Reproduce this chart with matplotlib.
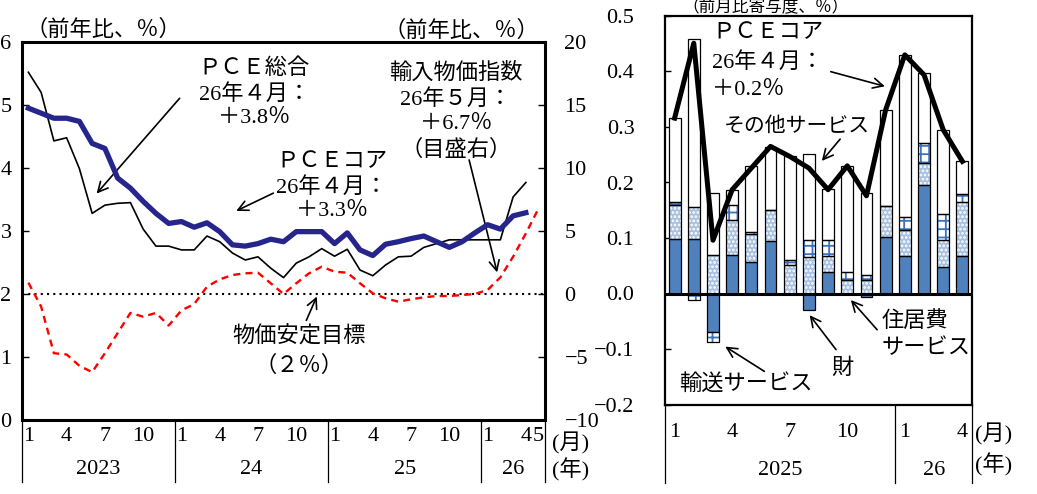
import matplotlib.pyplot as plt

plt.rcParams['font.family'] = ['Liberation Serif', 'Noto Sans CJK JP']
plt.rcParams['hatch.linewidth'] = 1.3

# ---- left panel data (Jan 2023 - May 2026, monthly) ----
pce_total = [5.52, 5.20, 4.43, 4.48, 3.99, 3.28, 3.41, 3.44, 3.45, 3.03,
             2.76, 2.76, 2.70, 2.70, 2.92, 2.83, 2.65, 2.54, 2.59, 2.41,
             2.26, 2.49, 2.59, 2.72, 2.60, 2.71, 2.38, 2.29, 2.46, 2.59,
             2.60, 2.74, 2.80, 2.86, 2.86, 2.86, 2.86, 2.86, 3.54, 3.77]
pce_core = [4.95, 4.87, 4.79, 4.79, 4.74, 4.39, 4.31, 3.84, 3.68, 3.47,
            3.28, 3.12, 3.15, 3.06, 3.13, 2.99, 2.78, 2.76, 2.80, 2.87,
            2.83, 2.99, 2.99, 2.99, 2.80, 2.97, 2.70, 2.61, 2.79, 2.83,
            2.88, 2.92, 2.83, 2.74, 2.83, 2.97, 3.10, 3.03, 3.24, 3.29]
import_px = [0.9, -1.0, -4.7, -4.8, -5.7, -6.2, -4.7, -3.1, -1.5, -1.8,
             -1.5, -2.5, -1.3, -0.8, 0.58, 1.16, 1.51, 1.64, 1.69, 0.85,
             0.0, 0.85, 1.64, 2.17, 1.77, 1.69, 0.85, 0.05, -0.34, -0.61,
             -0.42, -0.26, -0.16, -0.16, -0.08, 0.0, 0.32, 1.32, 2.96, 4.81, 6.8]
months_l = list(range(len(import_px)))
target = 2.0

tick_pos_l = [0, 3, 6, 9, 12, 15, 18, 21, 24, 27, 30, 33, 36, 39, 40]
tick_lab_l = ['1', '4', '7', '10'] * 3 + ['1', '4', '5']
years_l = ['2023', '24', '25', '26']
year_mid_l = [5.5, 17.5, 29.5, 38]
year_sep_l = [-0.5, 11.5, 23.5, 35.5, 40.5]

# ---- right panel data (Jan 2025 - Apr 2026, contributions, m/m) ----
goods = [0.098, 0.099, -0.069, 0.069, 0.057, 0.095, 0.0, -0.029,
         0.039, 0.0, -0.006, 0.101, 0.068, 0.196, 0.047, 0.068]
housing = [0.062, 0.057, 0.069, 0.064, 0.051, 0.055, 0.051, 0.065,
           0.028, 0.025, 0.025, 0.057, 0.046, 0.040, 0.050, 0.096]
transport = [0.004, -0.011, -0.018, 0.026, 0.003, 0.0, 0.009, 0.032,
             0.029, 0.014, 0.009, 0.0, 0.024, 0.035, 0.047, 0.016]
other = [0.152, 0.302, 0.112, 0.028, 0.118, 0.114, 0.188, 0.154,
         0.093, 0.191, 0.147, 0.172, 0.291, 0.126, 0.151, 0.058]
core_mm = [0.316, 0.451, 0.096, 0.187, 0.226, 0.265, 0.247, 0.226,
           0.187, 0.230, 0.176, 0.331, 0.430, 0.394, 0.295, 0.238]
months_r = list(range(len(core_mm)))

tick_pos_r = [0, 3, 6, 9, 12, 15]
tick_lab_r = ['1', '4', '7', '10', '1', '4']
years_r = ['2025', '26']
year_mid_r = [5.5, 13.5]
year_sep_r = [-0.5, 11.5, 15.5]

W, H = 1037, 494
FS = 16
navy = '#25258c'
arrow = dict(arrowstyle='->', lw=1.2, color='black', mutation_scale=18)

fig = plt.figure(figsize=(W / 100, H / 100), dpi=100)

# ================= left panel =================
ax = fig.add_axes([22 / W, 74 / H, 523 / W, 378 / H])
ax.set_xlim(-0.5, 40.5)
ax.set_ylim(0, 6)
ax.plot(months_l[:len(pce_total)], pce_total, color='black', lw=1.2, zorder=3)
ax.plot(months_l[:len(pce_core)], pce_core, color=navy, lw=3.8, zorder=4)
ax.axhline(target, color='black', ls=(0, (1, 2)), lw=1.5, zorder=2)
for s in ax.spines.values():
    s.set_linewidth(2.2)
ax.set_yticks(range(7))
ax.tick_params(axis='y', direction='in', length=5, width=1, pad=7.5, labelsize=FS)
ax.set_xticks(tick_pos_l, tick_lab_l)
ax.tick_params(axis='x', length=0, pad=5, labelsize=FS)

ax2 = ax.twinx()
ax2.set_ylim(-10, 20)
ax2.plot(months_l, import_px, color='red', ls=(0, (3, 2.2)), lw=1.7, zorder=3)
for s in ax2.spines.values():
    s.set_visible(False)
ax2.set_yticks([-10, -5, 0, 5, 10, 15, 20])
ax2.tick_params(axis='y', direction='in', length=5, width=1, pad=14, labelsize=FS)

tr = ax.get_xaxis_transform()
for xs in year_sep_l:
    ax.plot([xs, xs], [0, -0.164], transform=tr, clip_on=False, color='black', lw=0.9)
for xm, yl in zip(year_mid_l, years_l):
    ax.text(xm, -0.132, yl, transform=tr, ha='center', va='center', fontsize=FS)

# annotations, left panel
ax.text(17.7, 5.19, 'ＰＣＥ総合\n26年４月：\n＋3.8％', ha='center', va='center',
        fontsize=FS, linespacing=1.3)
ax.annotate('', xy=(5.2, 3.56), xytext=(12.0, 5.14), arrowprops=arrow)
ax.text(23.8, 3.70, 'ＰＣＥコア\n26年４月：\n＋3.3％', ha='center', va='center',
        fontsize=FS, linespacing=1.3)
ax.annotate('', xy=(16.1, 3.30), xytext=(19.4, 3.62), arrowprops=arrow)
ax.text(33.5, 4.90, '輸入物価指数\n26年５月：\n＋6.7％\n（目盛右）', ha='center', va='center',
        fontsize=FS, linespacing=1.35)
ax.annotate('', xy=(36.8, 2.30), xytext=(34.5, 4.17), arrowprops=arrow)
ax.text(21.2, 1.08, '物価安定目標\n（２％）', ha='center', va='center',
        fontsize=FS, linespacing=1.5)
ax.annotate('', xy=(22.7, 2.0), xytext=(21.7, 1.54), arrowprops=arrow)

fig.text(103 / W, 1 - 30 / H, '（前年比、％）', ha='center', va='center', fontsize=FS)
fig.text(461 / W, 1 - 31 / H, '（前年比、％）', ha='center', va='center', fontsize=FS)
fig.text(571 / W, 1 - 443 / H, '(月)', ha='center', va='center', fontsize=FS)
fig.text(571 / W, 1 - 470 / H, '(年)', ha='center', va='center', fontsize=FS)

# ================= right panel =================
ax3 = fig.add_axes([665 / W, 89.5 / H, 307 / W, 388.5 / H])
ax3.set_xlim(-0.5, 15.5)
ax3.set_ylim(-0.2, 0.5)

bw = 0.62
pos = [0.0] * len(months_r)
neg = [0.0] * len(months_r)
styles = [
    (goods, dict(facecolor='#4f81bd', edgecolor='#4f81bd', hatch=None)),
    (housing, dict(facecolor='#a9c1e0', edgecolor='white', hatch='....')),
    (transport, dict(facecolor='white', edgecolor='#3d72bf', hatch='++')),
    (other, dict(facecolor='white', edgecolor='white', hatch=None)),
]
for vals, st in styles:
    bottoms = [pos[i] if v >= 0 else neg[i] for i, v in enumerate(vals)]
    ax3.bar(months_r, vals, bottom=bottoms, width=bw, linewidth=0, zorder=2, **st)
    ax3.bar(months_r, vals, bottom=bottoms, width=bw, fill=False,
            edgecolor='black', linewidth=0.9, zorder=2.5)
    for i, v in enumerate(vals):
        if v >= 0:
            pos[i] += v
        else:
            neg[i] += v

ax3.axhline(0, color='black', lw=2.2, zorder=3)
ax3.plot(months_r, core_mm, color='black', lw=3.6, zorder=4)

for s in ax3.spines.values():
    s.set_linewidth(1.6)
rt = [-0.2, -0.1, 0.0, 0.1, 0.2, 0.3, 0.4, 0.5]
ax3.set_yticks(rt, [f'{v:.1f}'.replace('-', '−') for v in rt])
ax3.tick_params(axis='y', direction='in', length=4, width=1, pad=22, labelsize=FS)
ax3.set_xticks(tick_pos_r, tick_lab_r)
ax3.tick_params(axis='x', length=0, pad=13, labelsize=FS)

tr3 = ax3.get_xaxis_transform()
for xs in year_sep_r:
    ax3.plot([xs, xs], [0, -0.202], transform=tr3, clip_on=False, color='black', lw=0.9)
for xm, yl in zip(year_mid_r, years_r):
    ax3.text(xm, -0.169, yl, transform=tr3, ha='center', va='center', fontsize=FS)

# annotations, right panel
ax3.text(1.95, 0.417, 'ＰＣＥコア\n26年４月：\n＋0.2％', ha='left', va='center',
         fontsize=FS, linespacing=1.6)
ax3.annotate('', xy=(11.1, 0.372), xytext=(8.0, 0.401), arrowprops=arrow)
ax3.text(6.38, 0.300, 'その他サービス', ha='center', va='center', fontsize=15)
ax3.annotate('', xy=(7.58, 0.235), xytext=(8.72, 0.282), arrowprops=arrow)
ax3.text(3.72, -0.163, '輸送サービス', ha='center', va='center', fontsize=FS)
ax3.annotate('', xy=(2.52, -0.093), xytext=(4.8, -0.143), arrowprops=arrow)
ax3.text(8.72, -0.136, '財', ha='center', va='center', fontsize=FS)
ax3.annotate('', xy=(6.95, -0.035), xytext=(8.5, -0.105), arrowprops=arrow)
ax3.text(10.8, -0.075, '住居費\nサービス', ha='left', va='center', fontsize=FS,
         linespacing=1.45)
ax3.annotate('', xy=(9.09, -0.008), xytext=(10.65, -0.069), arrowprops=arrow)

fig.text(765 / W, 1 - 8.5 / H, '（前月比寄与度、％）', ha='center', va='center', fontsize=12)
fig.text(994 / W, 1 - 434 / H, '(月)', ha='center', va='center', fontsize=FS)
fig.text(994 / W, 1 - 465 / H, '(年)', ha='center', va='center', fontsize=FS)

fig.savefig('out.png', dpi=100)
